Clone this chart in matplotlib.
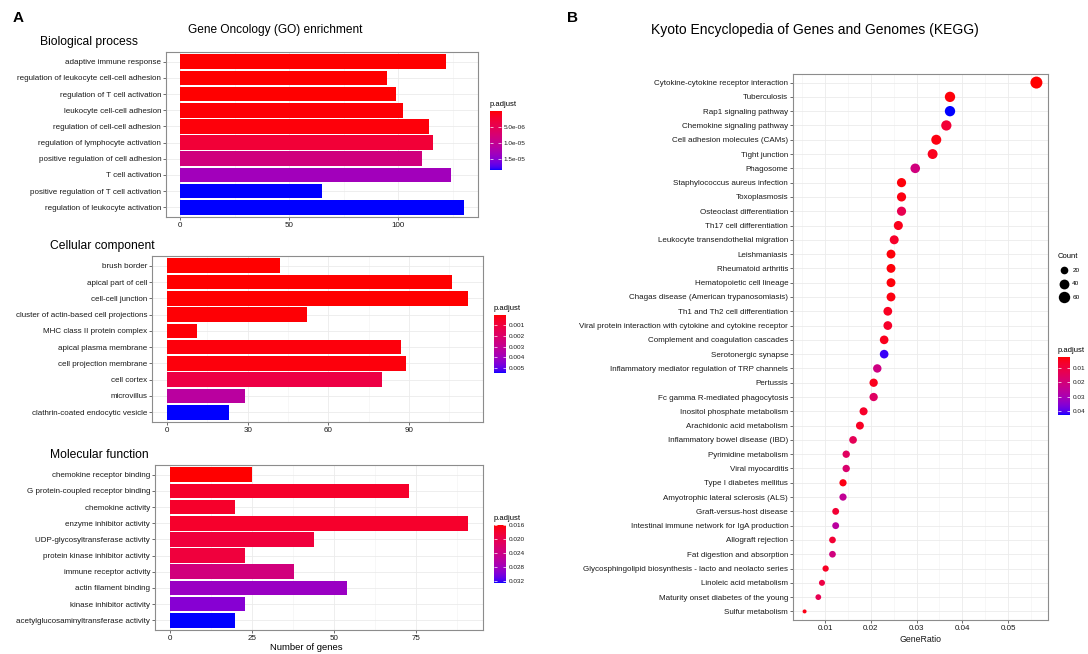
import numpy as np
import matplotlib
matplotlib.use('Agg')
import matplotlib.pyplot as plt
from matplotlib.colors import LinearSegmentedColormap, Normalize

plt.rcParams['font.family'] = ['Liberation Sans', 'DejaVu Sans']

# --- GO: Biological process ---
bp_terms = ['adaptive immune response', 'regulation of leukocyte cell-cell adhesion',
            'regulation of T cell activation', 'leukocyte cell-cell adhesion',
            'regulation of cell-cell adhesion', 'regulation of lymphocyte activation',
            'positive regulation of cell adhesion', 'T cell activation',
            'positive regulation of T cell activation', 'regulation of leukocyte activation']
bp_counts = [122, 95, 99, 102, 114, 116, 111, 124, 65, 130]
bp_padj = [1.0e-7, 1.2e-7, 1.5e-7, 2.8e-7, 4.5e-7, 2.9e-6, 8.4e-6, 1.33e-5, 1.85e-5, 1.85e-5]

# --- GO: Cellular component ---
cc_terms = ['brush border', 'apical part of cell', 'cell-cell junction',
            'cluster of actin-based cell projections', 'MHC class II protein complex',
            'apical plasma membrane', 'cell projection membrane', 'cell cortex',
            'microvillus', 'clathrin-coated endocytic vesicle']
cc_counts = [42, 106, 112, 52, 11, 87, 89, 80, 29, 23]
cc_padj = [0.00006, 0.00007, 0.00008, 0.00012, 0.00013, 0.00017, 0.00018, 0.00114, 0.00329, 0.00544]

# --- GO: Molecular function ---
mf_terms = ['chemokine receptor binding', 'G protein-coupled receptor binding',
            'chemokine activity', 'enzyme inhibitor activity',
            'UDP-glycosyltransferase activity', 'protein kinase inhibitor activity',
            'immune receptor activity', 'actin filament binding',
            'kinase inhibitor activity', 'acetylglucosaminyltransferase activity']
mf_counts = [25, 73, 20, 91, 44, 23, 38, 54, 23, 20]
mf_padj = [0.0160, 0.0177, 0.0177, 0.0178, 0.0188, 0.0189, 0.0234, 0.0284, 0.0295, 0.0325]

# --- KEGG ---
kegg_terms = ['Cytokine-cytokine receptor interaction', 'Tuberculosis', 'Rap1 signaling pathway',
              'Chemokine signaling pathway', 'Cell adhesion molecules (CAMs)', 'Tight junction',
              'Phagosome', 'Staphylococcus aureus infection', 'Toxoplasmosis',
              'Osteoclast differentiation', 'Th17 cell differentiation',
              'Leukocyte transendothelial migration', 'Leishmaniasis', 'Rheumatoid arthritis',
              'Hematopoietic cell lineage', 'Chagas disease (American trypanosomiasis)',
              'Th1 and Th2 cell differentiation',
              'Viral protein interaction with cytokine and cytokine receptor',
              'Complement and coagulation cascades', 'Serotonergic synapse',
              'Inflammatory mediator regulation of TRP channels', 'Pertussis',
              'Fc gamma R-mediated phagocytosis', 'Inositol phosphate metabolism',
              'Arachidonic acid metabolism', 'Inflammatory bowel disease (IBD)',
              'Pyrimidine metabolism', 'Viral myocarditis', 'Type I diabetes mellitus',
              'Amyotrophic lateral sclerosis (ALS)', 'Graft-versus-host disease',
              'Intestinal immune network for IgA production', 'Allograft rejection',
              'Fat digestion and absorption',
              'Glycosphingolipid biosynthesis - lacto and neolacto series',
              'Linoleic acid metabolism', 'Maturity onset diabetes of the young',
              'Sulfur metabolism']
kegg_ratio = [0.0562, 0.0373, 0.0373, 0.0365, 0.0343, 0.0335, 0.0297, 0.0267, 0.0267, 0.0267,
              0.0260, 0.0251, 0.0244, 0.0244, 0.0244, 0.0244, 0.0237, 0.0237, 0.0229, 0.0229,
              0.0214, 0.0206, 0.0206, 0.0184, 0.0176, 0.0161, 0.0146, 0.0146, 0.0139, 0.0139,
              0.0123, 0.0123, 0.0116, 0.0116, 0.0101, 0.0093, 0.0085, 0.0055]
kegg_count = [69, 46, 46, 45, 42, 41, 37, 33, 33, 33, 32, 31, 30, 30, 30, 30, 29, 29, 28, 28,
              26, 25, 25, 23, 22, 20, 18, 18, 17, 17, 15, 15, 14, 14, 12, 11, 10, 7]
kegg_padj = [0.0020, 0.0028, 0.0430, 0.0082, 0.0032, 0.0045, 0.0205, 0.0028, 0.0032, 0.0123,
             0.0041, 0.0061, 0.0028, 0.0028, 0.0028, 0.0032, 0.0049, 0.0061, 0.0045, 0.0418,
             0.0213, 0.0045, 0.0155, 0.0061, 0.0053, 0.0135, 0.0151, 0.0176, 0.0036, 0.0246,
             0.0077, 0.0266, 0.0077, 0.0205, 0.0053, 0.0102, 0.0127, 0.0036]

W, H = 1088, 654


def px(x, y):
    # pixel position -> figure fraction
    return x / W, 1 - y / H


def rect(left, top, right, bottom):
    return [left / W, 1 - bottom / H, (right - left) / W, (bottom - top) / H]


# red -> blue gradient interpolated in CIELAB, like ggplot2
M = np.array([[0.4124564, 0.3575761, 0.1804375],
              [0.2126729, 0.7151522, 0.0721750],
              [0.0193339, 0.1191920, 0.9503041]])
WHITE = np.array([0.95047, 1.0, 1.08883])


def to_lab(c):
    c = np.asarray(c, float)
    lin = np.where(c <= 0.04045, c / 12.92, ((c + 0.055) / 1.055) ** 2.4)
    xyz = M @ lin / WHITE
    f = np.where(xyz > (6 / 29) ** 3, np.cbrt(xyz), xyz / (3 * (6 / 29) ** 2) + 4 / 29)
    return np.array([116 * f[1] - 16, 500 * (f[0] - f[1]), 200 * (f[1] - f[2])])


def from_lab(lab):
    L, a, b = lab
    fy = (L + 16) / 116
    f = np.array([fy + a / 500, fy, fy - b / 200])
    xyz = np.where(f > 6 / 29, f ** 3, 3 * (6 / 29) ** 2 * (f - 4 / 29)) * WHITE
    lin = np.linalg.inv(M) @ xyz
    lin = np.clip(lin, 0, 1)
    c = np.where(lin <= 0.0031308, 12.92 * lin, 1.055 * lin ** (1 / 2.4) - 0.055)
    return np.clip(c, 0, 1)


lab_lo, lab_hi = to_lab((1, 0, 0)), to_lab((0, 0, 1))
ramp = [from_lab(lab_lo + t * (lab_hi - lab_lo)) for t in np.linspace(0, 1, 256)]
cmap = LinearSegmentedColormap.from_list('red_blue', ramp)

fig = plt.figure(figsize=(W / 100, H / 100), dpi=100)


def style(ax):
    for s in ax.spines.values():
        s.set_color('#8c8c8c')
        s.set_linewidth(0.8)
    ax.tick_params(which='major', labelsize=5.8, length=2, width=0.5,
                   color='#333333', labelcolor='#1a1a1a', pad=1.5)
    ax.tick_params(which='minor', length=0)
    ax.grid(which='major', color='#ebebeb', linewidth=0.6)
    ax.grid(which='minor', axis='x', color='#f2f2f2', linewidth=0.4)
    ax.set_axisbelow(True)


def colorbar(r, vmin, vmax, ticks, labels):
    cax = fig.add_axes(r)
    grad = np.linspace(vmin, vmax, 256)[:, None]
    cax.imshow(grad, aspect='auto', cmap=cmap, vmin=vmin, vmax=vmax,
               extent=[0, 1, vmax, vmin], origin='upper')
    cax.set_xticks([])
    cax.set_yticks(ticks, labels)
    cax.tick_params(axis='y', left=True, right=True, labelleft=False, labelright=True,
                    direction='in', color='white', length=2, width=0.5,
                    labelsize=4.6, labelcolor='#1a1a1a', pad=2)
    for s in cax.spines.values():
        s.set_visible(False)
    cax.text(0, 1.05, 'p.adjust', transform=cax.transAxes, fontsize=5.5, va='bottom')


def bar_panel(r, terms, counts, padj, xticks, title, title_xy, cbar_r, cticks, clabels):
    ax = fig.add_axes(r)
    y = np.arange(len(terms))
    norm = Normalize(min(padj), max(padj))
    ax.barh(y, counts, height=0.9, color=cmap(norm(padj)), zorder=2)
    ax.set_yticks(y, terms)
    ax.set_ylim(len(terms) - 0.4, -0.6)
    top = max(counts)
    ax.set_xlim(-0.05 * top, 1.05 * top)
    ax.set_xticks(xticks)
    step = xticks[1] - xticks[0]
    ax.set_xticks(np.arange(step / 2, top * 1.05, step), minor=True)
    style(ax)
    fig.text(*px(*title_xy), title, fontsize=8.7, va='center', ha='left')
    colorbar(cbar_r, min(padj), max(padj), cticks, clabels)
    return ax


bar_panel(rect(166, 52, 478, 217), bp_terms, bp_counts, bp_padj, [0, 50, 100],
          'Biological process', (40, 42), rect(490, 111, 501, 170),
          [5e-6, 1e-5, 1.5e-5], ['5.0e-06', '1.0e-05', '1.5e-05'])
bar_panel(rect(152, 256, 483, 422), cc_terms, cc_counts, cc_padj, [0, 30, 60, 90],
          'Cellular component', (50, 246), rect(494, 315, 506, 373),
          [0.001, 0.002, 0.003, 0.004, 0.005], ['0.001', '0.002', '0.003', '0.004', '0.005'])
bar_panel(rect(155, 465, 483, 630), mf_terms, mf_counts, mf_padj, [0, 25, 50, 75],
          'Molecular function', (50, 455), rect(494, 525, 506, 583),
          [0.016, 0.020, 0.024, 0.028, 0.032], ['0.016', '0.020', '0.024', '0.028', '0.032'])

fig.text(*px(306, 648), 'Number of genes', fontsize=6.8, ha='center', va='center')
fig.text(*px(275, 30), 'Gene Oncology (GO) enrichment', fontsize=8.6, ha='center', va='center')
fig.text(*px(18, 18), 'A', fontsize=11, fontweight='bold', ha='center', va='center')
fig.text(*px(572, 18), 'B', fontsize=11, fontweight='bold', ha='center', va='center')
fig.text(*px(815, 30), 'Kyoto Encyclopedia of Genes and Genomes (KEGG)', fontsize=10,
         ha='center', va='center')

# --- KEGG dot plot ---
axk = fig.add_axes(rect(793, 74, 1048, 620))
cmin, cmax = min(kegg_count), max(kegg_count)


def dot_size(c):
    d = 4 + 8 * np.sqrt((np.asarray(c, float) - cmin) / (cmax - cmin))
    return (d * 0.72) ** 2


ky = np.arange(len(kegg_terms))
knorm = Normalize(min(kegg_padj), max(kegg_padj))
axk.scatter(kegg_ratio, ky, s=dot_size(kegg_count), c=cmap(knorm(kegg_padj)),
            linewidths=0, zorder=3)
axk.set_yticks(ky, kegg_terms)
axk.set_ylim(len(kegg_terms) - 0.4, -0.6)
r = max(kegg_ratio) - min(kegg_ratio)
axk.set_xlim(min(kegg_ratio) - 0.05 * r, max(kegg_ratio) + 0.05 * r)
axk.set_xticks([0.01, 0.02, 0.03, 0.04, 0.05], ['0.01', '0.02', '0.03', '0.04', '0.05'])
axk.set_xticks(np.arange(0.005, 0.06, 0.01), minor=True)
style(axk)
axk.set_xlabel('GeneRatio', fontsize=6.3, labelpad=2, color='#1a1a1a')

handles = [axk.scatter([], [], s=dot_size(c), color='black', linewidths=0) for c in [20, 40, 60]]
leg = fig.legend(handles, ['20', '40', '60'], title='Count', loc='upper left',
                 bbox_to_anchor=px(1055, 250), frameon=False, fontsize=4.6,
                 title_fontsize=5.5, labelspacing=1.25, handletextpad=0.3,
                 borderaxespad=0, alignment='left')

colorbar(rect(1058, 357, 1070, 415), min(kegg_padj), max(kegg_padj),
         [0.01, 0.02, 0.03, 0.04], ['0.01', '0.02', '0.03', '0.04'])

fig.savefig('out.png', dpi=100)
